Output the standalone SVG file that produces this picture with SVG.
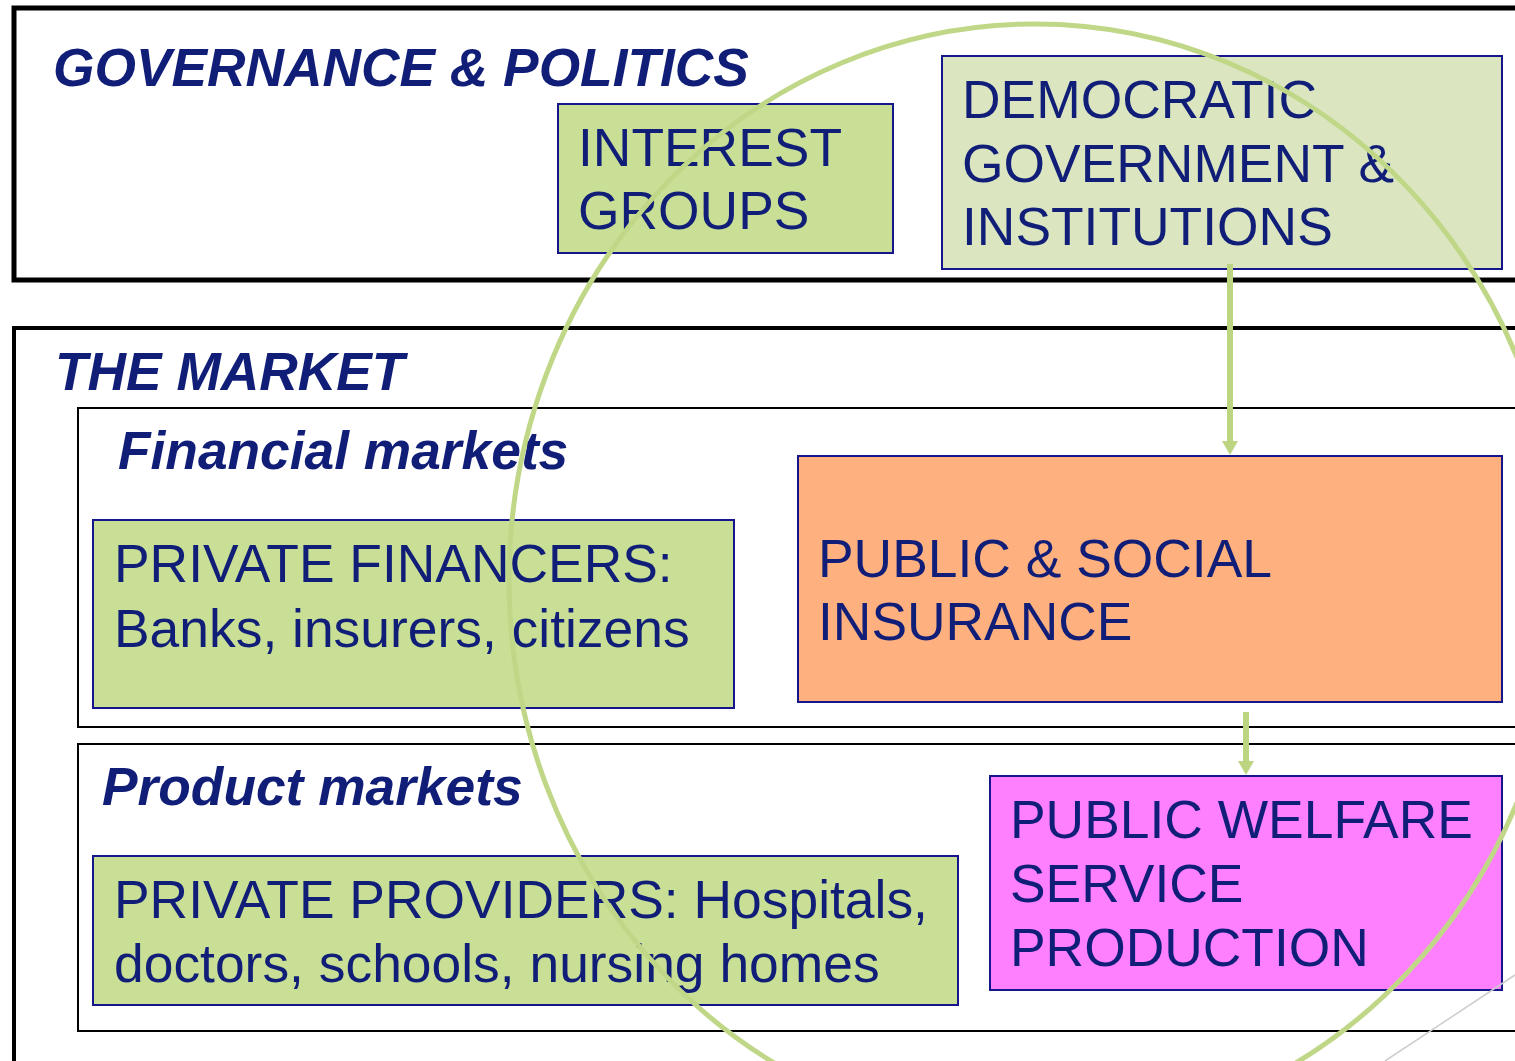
<svg xmlns="http://www.w3.org/2000/svg" width="1515" height="1061" viewBox="0 0 1515 1061">
<defs>
<style>
.frame{fill:none;stroke:#000;}
.node{stroke:#16168c;stroke-width:2;}
.t{font-family:"Liberation Sans",Arial,sans-serif;font-size:53.4px;fill:#111e78;}
.h{font-family:"Liberation Sans",Arial,sans-serif;font-size:53.3px;font-weight:bold;font-style:italic;fill:#111e78;}
.arrow{stroke:#bdd481;stroke-width:6;fill:none;}
.head{fill:#bdd481;}
</style>
</defs>
<rect width="1515" height="1061" fill="#fff"/>
<g id="governance">
<rect class="frame" x="14" y="8" width="1530" height="272" stroke-width="5"/>
<text class="h" x="53" y="86">GOVERNANCE &amp; POLITICS</text>
</g>
<g id="market">
<rect class="frame" x="14" y="328" width="1530" height="760" stroke-width="4"/>
<text class="h" x="55" y="390">THE MARKET</text>
</g>
<g id="financial-markets">
<rect class="frame" x="78" y="408" width="1460" height="319" stroke-width="2"/>
<text class="h" x="118" y="469">Financial markets</text>
</g>
<g id="product-markets">
<rect class="frame" x="78" y="744" width="1460" height="287" stroke-width="2"/>
<text class="h" x="102" y="805">Product markets</text>
</g>
<g id="interest-groups">
<rect class="node" x="558" y="104" width="335" height="149" fill="#c9df95"/>
<text class="t" x="578" y="166">INTEREST</text>
<text class="t" x="578" y="229">GROUPS</text>
</g>
<g id="democratic-government">
<rect class="node" x="942" y="56" width="560" height="213" fill="#dbe6c1"/>
<text class="t" x="962" y="118">DEMOCRATIC</text>
<text class="t" x="962" y="182">GOVERNMENT &amp;</text>
<text class="t" x="962" y="245">INSTITUTIONS</text>
</g>
<g id="public-social-insurance">
<rect class="node" x="798" y="456" width="704" height="246" fill="#ffb07f"/>
<text class="t" x="818" y="577">PUBLIC &amp; SOCIAL</text>
<text class="t" x="818" y="640">INSURANCE</text>
</g>
<g id="private-financers">
<rect class="node" x="93" y="520" width="641" height="188" fill="#c9df95"/>
<text class="t" x="114" y="582">PRIVATE FINANCERS:</text>
<text class="t" x="114" y="647">Banks, insurers, citizens</text>
</g>
<g id="public-welfare">
<rect class="node" x="990" y="776" width="512" height="214" fill="#ff80ff"/>
<text class="t" x="1010" y="838">PUBLIC WELFARE</text>
<text class="t" x="1010" y="902">SERVICE</text>
<text class="t" x="1010" y="966">PRODUCTION</text>
</g>
<g id="private-providers">
<rect class="node" x="93" y="856" width="865" height="149" fill="#c9df95"/>
<text class="t" x="114" y="918">PRIVATE PROVIDERS: Hospitals,</text>
<text class="t" x="114" y="982">doctors, schools, nursing homes</text>
</g>
<g id="connectors">
<line class="arrow" x1="1230" y1="264" x2="1230" y2="442"/>
<path class="head" d="M1222,441 L1238,441 L1230,455 Z"/>
<line class="arrow" x1="1246" y1="712" x2="1246" y2="762"/>
<path class="head" d="M1238,761 L1254,761 L1246,775 Z"/>
</g>
<g id="overlay">
<ellipse cx="1035" cy="580" rx="526" ry="556" fill="none" stroke="#c0d787" stroke-width="5"/>
<line x1="1385" y1="1061" x2="1515" y2="975" stroke="#cccccc" stroke-width="1.5"/>
</g>
</svg>
